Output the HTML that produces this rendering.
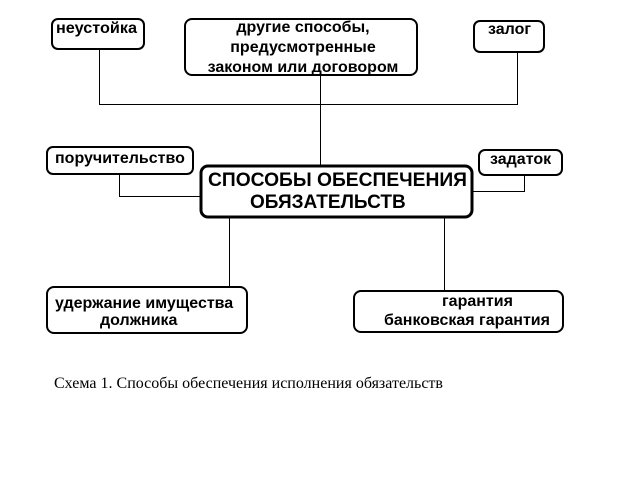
<!DOCTYPE html>
<html><head><meta charset="utf-8"><style>
html,body{margin:0;padding:0;background:#fff;}
svg{display:block;}
text{font-family:"Liberation Sans","DejaVu Sans",sans-serif;font-weight:bold;font-size:16px;fill:#000;}
.cap{font-family:"Liberation Serif","DejaVu Serif",serif;font-weight:normal;font-size:15.5px;}
</style></head><body>
<svg width="640" height="480" viewBox="0 0 640 480">
<g fill="none" stroke="#000" stroke-width="1">
<polyline points="99.5,50 99.5,104.5 517.5,104.5 517.5,51"/>
<line x1="320.5" y1="75" x2="320.5" y2="166"/>
<polyline points="119.5,174 119.5,196.5 201,196.5"/>
<polyline points="524.5,175 524.5,191.5 472,191.5"/>
<line x1="229.5" y1="217" x2="229.5" y2="287"/>
<line x1="444.5" y1="217" x2="444.5" y2="291"/>
</g>
<g fill="#fff" stroke="#000" stroke-width="2">
<rect x="52" y="19" width="92" height="30" rx="6"/>
<rect x="185" y="19" width="232" height="56" rx="7"/>
<rect x="474" y="21" width="70" height="31" rx="6"/>
<rect x="47" y="147" width="146" height="27" rx="6"/>
<rect x="479" y="150" width="83" height="25" rx="6"/>
<rect x="47" y="287" width="200" height="46" rx="7"/>
<rect x="354" y="291" width="209" height="41" rx="7"/>
</g>
<rect x="201" y="166" width="271" height="51" rx="7" fill="#fff" stroke="#000" stroke-width="3"/>
<text x="56" y="33" textLength="81" lengthAdjust="spacingAndGlyphs">неустойка</text>
<text x="303" y="32" text-anchor="middle">другие способы,</text>
<text x="303" y="52" text-anchor="middle">предусмотренные</text>
<text x="303" y="72" text-anchor="middle">законом или договором</text>
<text x="488" y="34">залог</text>
<text x="55" y="163">поручительство</text>
<text x="490" y="164">задаток</text>
<text x="208" y="186" style="font-size:19px" textLength="259" lengthAdjust="spacingAndGlyphs">СПОСОБЫ ОБЕСПЕЧЕНИЯ</text>
<text x="250" y="208" style="font-size:19px">ОБЯЗАТЕЛЬСТВ</text>
<text x="55" y="308">удержание имущества</text>
<text x="100" y="325">должника</text>
<text x="442" y="306">гарантия</text>
<text x="384" y="325">банковская гарантия</text>
<text class="cap" x="54" y="388" textLength="389" lengthAdjust="spacingAndGlyphs">Схема 1. Способы обеспечения исполнения обязательств</text>
</svg>
</body></html>
